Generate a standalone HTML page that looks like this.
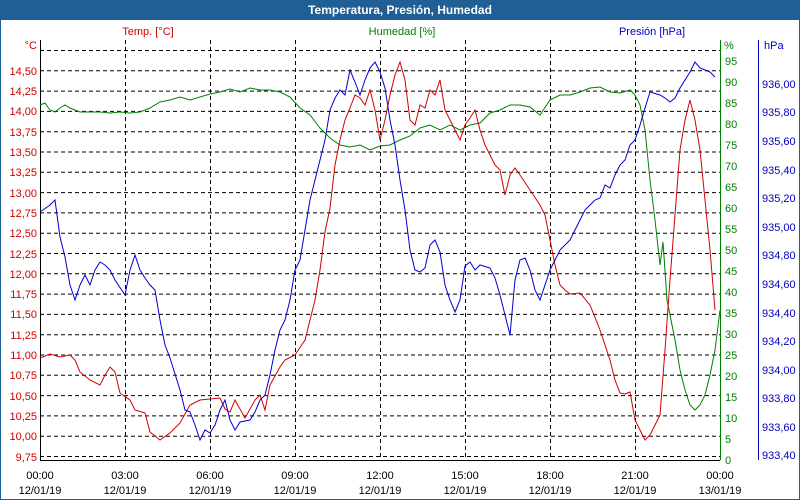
<!DOCTYPE html>
<html><head><meta charset="utf-8"><style>
body{margin:0;background:#fff}
svg{display:block;font-family:"Liberation Sans",sans-serif}
</style></head><body>
<svg width="800" height="500" xmlns="http://www.w3.org/2000/svg">
<rect x="0" y="0" width="800" height="500" fill="#fff" stroke="#1f5f95" stroke-width="2"/>
<rect x="0" y="0" width="800" height="20" fill="#1f5f95"/>
<text x="400" y="14" fill="#fff" font-size="12" font-weight="bold" text-anchor="middle">Temperatura, Presión, Humedad</text>
<g font-size="11">
<text x="148" y="35" fill="#d00000" text-anchor="middle">Temp. [°C]</text>
<text x="402" y="35" fill="#008000" text-anchor="middle">Humedad [%]</text>
<text x="652" y="35" fill="#0000c0" text-anchor="middle">Presión [hPa]</text>
<text x="37" y="49" fill="#d00000" text-anchor="end">°C</text>
<text x="724" y="49" fill="#008000">%</text>
<text x="764" y="49" fill="#0000c0">hPa</text>
</g>
<g stroke="#000" stroke-dasharray="4,3" stroke-width="1">
<path d="M40 50.5H720M40 70.8H720M40 91.1H720M40 111.4H720M40 131.7H720M40 152H720M40 172.3H720M40 192.6H720M40 212.9H720M40 233.2H720M40 253.5H720M40 273.8H720M40 294.1H720M40 314.4H720M40 334.7H720M40 355H720M40 375.3H720M40 395.6H720M40 415.9H720M40 436.2H720M40 456.5H720"/>
<path d="M125.5 40V460M210.5 40V460M295.5 40V460M380.5 40V460M465.5 40V460M550.5 40V460M635.5 40V460"/>
</g>
<path d="M40.5 40V460.5H720" stroke="#000" fill="none"/>
<path d="M720.5 40V460" stroke="#008000"/>
<path d="M758.5 40V460" stroke="#0000c0"/>
<g font-size="11" fill="#d00000" text-anchor="end">
<text x="37" y="75">14,50</text><text x="37" y="95">14,25</text><text x="37" y="115">14,00</text><text x="37" y="136">13,75</text><text x="37" y="156">13,50</text><text x="37" y="176">13,25</text><text x="37" y="197">13,00</text><text x="37" y="217">12,75</text><text x="37" y="237">12,50</text><text x="37" y="258">12,25</text><text x="37" y="278">12,00</text><text x="37" y="298">11,75</text><text x="37" y="318">11,50</text><text x="37" y="339">11,25</text><text x="37" y="359">11,00</text><text x="37" y="379">10,75</text><text x="37" y="400">10,50</text><text x="37" y="420">10,25</text><text x="37" y="440">10,00</text><text x="37" y="461">9,75</text>
</g>
<g font-size="11" fill="#008000">
<text x="725" y="65">95</text><text x="725" y="86">90</text><text x="725" y="107">85</text><text x="725" y="128">80</text><text x="725" y="149">75</text><text x="725" y="170">70</text><text x="725" y="191">65</text><text x="725" y="212">60</text><text x="725" y="233">55</text><text x="725" y="254">50</text><text x="725" y="275">45</text><text x="725" y="296">40</text><text x="725" y="317">35</text><text x="725" y="338">30</text><text x="725" y="359">25</text><text x="725" y="380">20</text><text x="725" y="401">15</text><text x="725" y="422">10</text><text x="725" y="443">5</text><text x="725" y="464">0</text>
</g>
<g font-size="11" fill="#0000c0">
<text x="762" y="88">936,00</text><text x="762" y="116">935,80</text><text x="762" y="145">935,60</text><text x="762" y="174">935,40</text><text x="762" y="202">935,20</text><text x="762" y="231">935,00</text><text x="762" y="259">934,80</text><text x="762" y="288">934,60</text><text x="762" y="317">934,40</text><text x="762" y="345">934,20</text><text x="762" y="374">934,00</text><text x="762" y="402">933,80</text><text x="762" y="431">933,60</text><text x="762" y="459">933,40</text>
</g>
<g font-size="11" fill="#000" text-anchor="middle">
<text x="40" y="479">00:00</text><text x="40" y="494">12/01/19</text>
<text x="125" y="479">03:00</text><text x="125" y="494">12/01/19</text>
<text x="210" y="479">06:00</text><text x="210" y="494">12/01/19</text>
<text x="295" y="479">09:00</text><text x="295" y="494">12/01/19</text>
<text x="380" y="479">12:00</text><text x="380" y="494">12/01/19</text>
<text x="465" y="479">15:00</text><text x="465" y="494">12/01/19</text>
<text x="550" y="479">18:00</text><text x="550" y="494">12/01/19</text>
<text x="635" y="479">21:00</text><text x="635" y="494">12/01/19</text>
<text x="720" y="479">00:00</text><text x="720" y="494">13/01/19</text>
</g>
<polyline fill="none" stroke="#008000" points="40,105 45,103 50,110 55,112 60,108 65,105 70,108 80,112 90,112 100,112 110,113 120,112 130,113 140,112 150,108 160,102 170,100 180,97 190,100 200,97 210,94 220,92 230,89 240,92 250,88 260,90 270,90 280,92 290,97 300,108 310,115 320,128 330,138 340,145 350,147 360,145 370,150 380,146 390,145 400,140 410,136 420,128 430,125 440,130 450,125 460,130 470,125 480,123 490,113 500,110 510,105 520,105 530,107 540,115 550,100 560,95 570,95 580,92 590,88 600,87 610,92 620,93 630,90 635,95 640,105 645,130 650,180 655,220 660,265 663,242 667,300 675,340 680,370 685,390 690,405 695,410 700,405 705,395 710,375 715,350 720,310"/>
<polyline fill="none" stroke="#d00000" points="40,358 50,354 60,357 70,355 75,360 80,372 90,380 100,385 105,375 110,367 115,372 120,393 130,400 135,410 145,413 150,432 160,440 170,433 180,423 190,405 200,400 210,399 220,398 225,409 230,412 235,400 245,418 255,400 260,395 265,410 270,385 280,367 285,360 295,355 305,340 310,320 315,300 320,270 325,232 330,208 335,165 340,140 345,120 350,108 355,95 360,98 365,105 370,90 375,110 380,140 385,120 390,95 395,75 400,62 405,80 410,120 415,125 420,105 425,108 430,90 435,95 440,80 445,110 450,120 455,130 460,140 465,125 470,118 475,110 480,130 485,145 490,155 495,165 500,170 505,195 510,175 515,168 520,175 530,190 540,205 545,215 550,240 555,265 560,285 565,290 570,294 580,293 590,305 600,330 610,360 615,380 620,393 625,394 630,392 635,420 640,430 645,440 650,435 655,425 660,415 665,350 670,280 675,215 680,150 685,120 690,100 695,120 700,150 705,200 710,250 715,310"/>
<polyline fill="none" stroke="#0000d0" points="40,212 50,205 55,200 60,237 65,257 70,285 75,300 80,285 85,275 90,285 95,270 100,262 105,265 110,270 115,280 125,295 130,270 135,255 140,270 145,278 150,285 155,290 160,320 165,345 170,358 180,390 185,410 190,412 195,425 200,440 205,430 210,433 215,425 220,410 225,400 230,420 235,430 240,422 250,420 255,412 260,400 265,395 270,375 275,350 280,330 285,320 290,300 295,270 300,260 305,230 310,200 315,180 320,160 325,140 330,110 335,98 340,90 345,95 350,70 355,82 360,95 365,80 370,68 375,62 380,72 385,88 390,120 395,145 400,180 405,210 410,250 415,270 420,272 425,268 430,245 435,240 440,252 445,285 450,300 455,312 460,300 465,266 470,262 475,270 480,265 490,268 495,278 500,295 505,315 510,335 515,280 520,260 525,258 530,270 535,290 540,300 545,285 550,270 555,260 560,250 565,245 570,240 575,230 580,220 585,210 590,205 595,200 600,198 605,185 610,188 615,175 620,165 625,160 630,145 635,140 640,125 645,108 650,92 660,95 665,98 670,102 675,98 680,88 685,80 690,72 695,62 700,68 705,70 710,72 715,77"/>
</svg>
</body></html>
